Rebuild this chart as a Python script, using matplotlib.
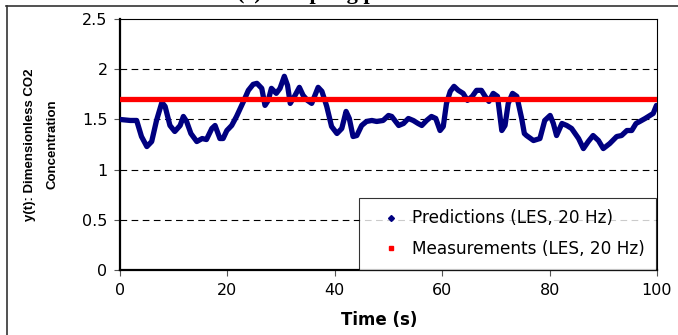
import matplotlib
matplotlib.use("Agg")
import matplotlib.pyplot as plt
from matplotlib.lines import Line2D

plt.rcParams['font.family'] = ['DejaVu Sans']

## data
time_s = [0.0, 1.9, 3.1, 4.0, 5.0, 5.9, 6.8, 7.8, 8.4, 9.3, 10.2, 11.2, 11.8, 12.4,
          13.2, 14.3, 15.3, 16.1, 17.1, 17.7, 18.6, 19.2, 19.9, 20.8, 21.7, 23.0,
          23.9, 24.8, 25.5, 26.4, 27.0, 27.6, 28.2, 29.1, 29.8, 30.6, 31.2, 31.7,
          32.6, 33.4, 34.1, 34.9, 35.7, 36.3, 36.9, 37.6, 38.5, 39.4, 40.4, 41.3,
          42.1, 42.7, 43.4, 44.1, 45.0, 45.9, 46.9, 47.8, 49.0, 50.0, 50.6, 51.9,
          52.8, 53.7, 54.6, 55.5, 56.2, 57.1, 58.0, 58.8, 59.6, 60.2, 60.8, 61.5,
          62.2, 63.0, 63.9, 64.7, 65.6, 66.4, 67.3, 68.0, 68.7, 69.5, 70.3, 71.1,
          71.7, 72.3, 73.1, 73.9, 74.8, 75.3, 75.7, 77.0, 78.2, 79.1, 80.1, 80.7,
          81.3, 82.3, 83.2, 84.1, 85.4, 86.3, 87.2, 88.1, 89.1, 90.0, 91.2, 92.5,
          93.4, 94.4, 95.3, 96.1, 96.8, 97.8, 98.7, 99.3, 99.9]
predictions = [1.50, 1.49, 1.49, 1.33, 1.23, 1.28, 1.49, 1.67, 1.63, 1.44, 1.38, 1.44,
               1.53, 1.48, 1.36, 1.28, 1.31, 1.30, 1.41, 1.44, 1.31, 1.31, 1.39, 1.44,
               1.53, 1.68, 1.79, 1.85, 1.86, 1.81, 1.64, 1.69, 1.81, 1.76, 1.81, 1.93,
               1.84, 1.66, 1.74, 1.82, 1.74, 1.69, 1.66, 1.74, 1.82, 1.78, 1.63, 1.43,
               1.36, 1.41, 1.58, 1.51, 1.33, 1.34, 1.44, 1.48, 1.49, 1.48, 1.49, 1.54,
               1.53, 1.44, 1.46, 1.51, 1.49, 1.46, 1.44, 1.49, 1.53, 1.51, 1.39, 1.43,
               1.66, 1.78, 1.83, 1.79, 1.76, 1.69, 1.73, 1.79, 1.79, 1.73, 1.68, 1.76,
               1.73, 1.39, 1.44, 1.66, 1.76, 1.73, 1.51, 1.36, 1.34, 1.29, 1.31, 1.49,
               1.54, 1.46, 1.34, 1.46, 1.44, 1.41, 1.31, 1.21, 1.28, 1.34, 1.29, 1.21,
               1.26, 1.33, 1.34, 1.39, 1.39, 1.46, 1.48, 1.51, 1.54, 1.56, 1.64]
measure_t = [0, 100]
measurement = [1.7, 1.7]

yticks = [0, 0.5, 1, 1.5, 2, 2.5]
ytick_labels = ["0", "0.5", "1", "1.5", "2", "2.5"]
xticks = [0, 20, 40, 60, 80, 100]


fig = plt.figure(figsize=(6.78, 3.35), dpi=100)
ax = fig.add_axes([0.177, 0.194, 0.792, 0.749])

# dashed gridlines like excel
for yv in yticks[1:-1]:
    ax.axhline(yv, color="black", linestyle=(0, (6, 4)), linewidth=0.8, zorder=1)

ax.plot(time_s, predictions, color="#000080", linewidth=3.8,
        solid_joinstyle="round", solid_capstyle="round", zorder=3)
ax.plot(measure_t, measurement, color="#ff0000", linewidth=3.8, zorder=4)

ax.set_xlim(0, 100)
ax.set_ylim(0, 2.5)
ax.set_xticks(xticks)
ax.set_yticks(yticks)
ax.set_yticklabels(ytick_labels)
ax.tick_params(axis="both", direction="out", length=4, width=0.8, labelsize=11.5,
               color="#555555", pad=5)
for side in ["left", "bottom"]:
    ax.spines[side].set_linewidth(1.6)
for side in ["top", "right"]:
    ax.spines[side].set_linewidth(0.8)

ax.set_xlabel("Time (s)", fontsize=12, fontweight="bold")
ax.xaxis.set_label_coords(0.482, -0.163)
ax.set_ylabel("y(t): Dimensionless CO2\nConcentration", fontsize=9.5,
              fontweight="bold", labelpad=17, linespacing=2.1,
              family=["Liberation Sans", "DejaVu Sans"])

legend = [
    Line2D([0], [0], marker="D", color="white", markerfacecolor="#000080",
           markeredgecolor="#000080", markersize=3, label="Predictions (LES, 20 Hz)"),
    Line2D([0], [0], marker="s", color="white", markerfacecolor="#ff0000",
           markeredgecolor="#ff0000", markersize=3.5, label="Measurements (LES, 20 Hz)"),
]
leg = ax.legend(handles=legend, loc="lower right", bbox_to_anchor=(0.999, 0.0),
                fontsize=12.2, frameon=True, fancybox=False, edgecolor="black",
                borderpad=0.7, labelspacing=0.75, handlelength=2.3, handletextpad=0.1,
                borderaxespad=0.0)
leg.get_frame().set_linewidth(0.8)
leg.set_zorder(5)

# clipped title and chart border at the top
fig.text(0.35, 1.004, "(c) Sampling point 1", fontsize=16, fontweight="bold",
         family=["Liberation Serif", "DejaVu Serif"], va="baseline", ha="left")
fig.add_artist(Line2D([6 / 678, 1.0], [1 - 6 / 335, 1 - 6 / 335], color="#333333",
                      linewidth=1.2, transform=fig.transFigure))
fig.add_artist(Line2D([7 / 678, 7 / 678], [0.0, 1 - 6 / 335], color="#333333",
                      linewidth=1.2, transform=fig.transFigure))

fig.savefig("out.png", dpi=100)
